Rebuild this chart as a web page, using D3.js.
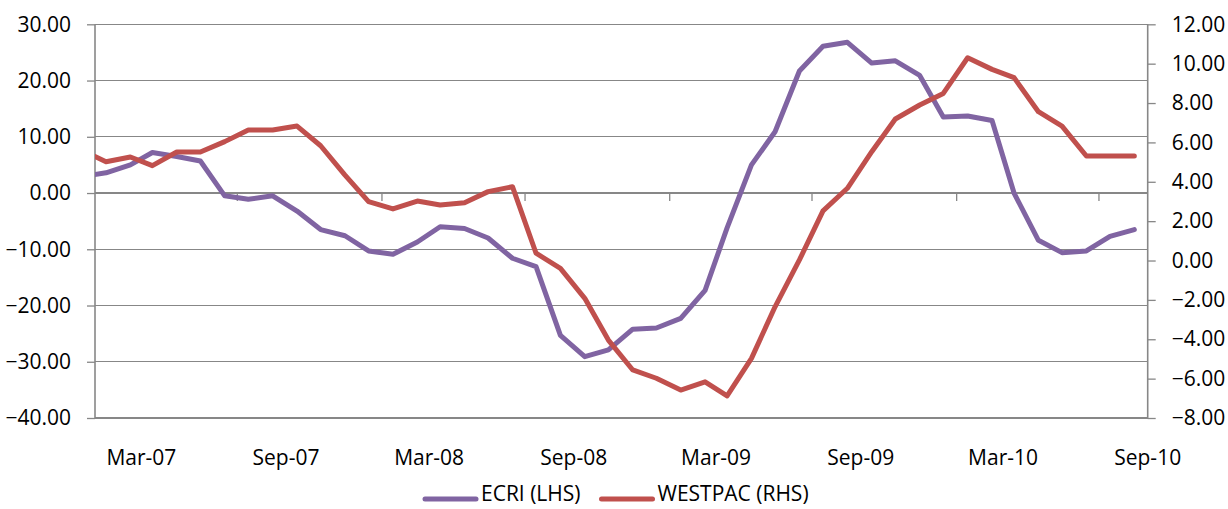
<!DOCTYPE html>
<html>
<head>
<meta charset="utf-8">
<script src="https://cdnjs.cloudflare.com/ajax/libs/d3/7.8.5/d3.min.js"></script>
<style>
  html, body { margin: 0; padding: 0; background: #fff; }
  svg { display: block; font-family: "Open Sans", sans-serif; }
</style>
</head>
<body>
<svg id="chart" width="1228" height="509"></svg>
<script>
// ---- Data (monthly, mid-month observations) ----
const months = [
  "2006-12",
  "2007-01","2007-02","2007-03","2007-04","2007-05","2007-06","2007-07","2007-08","2007-09","2007-10","2007-11","2007-12",
  "2008-01","2008-02","2008-03","2008-04","2008-05","2008-06","2008-07","2008-08","2008-09","2008-10","2008-11","2008-12",
  "2009-01","2009-02","2009-03","2009-04","2009-05","2009-06","2009-07","2009-08","2009-09","2009-10","2009-11","2009-12",
  "2010-01","2010-02","2010-03","2010-04","2010-05","2010-06","2010-07","2010-08"
];
const ecri = [
  2.9,
  3.6, 5.0, 7.2, 6.5, 5.7, -0.5, -1.1, -0.5, -3.2, -6.5, -7.6, -10.3,
  -10.9, -8.7, -6.0, -6.3, -8.0, -11.6, -13.1, -25.3, -29.1, -27.9, -24.2, -24.0,
  -22.3, -17.3, -6.2, 5.0, 10.9, 21.7, 26.1, 26.8, 23.1, 23.5, 20.9, 13.5,
  13.7, 12.9, 0.0, -8.4, -10.6, -10.3, -7.7, -6.5
];
const westpac = [
  5.6,
  5.02, 5.26, 4.82, 5.51, 5.51, 6.04, 6.63, 6.63, 6.83, 5.83, 4.34, 2.99,
  2.62, 3.02, 2.82, 2.94, 3.50, 3.75, 0.37, -0.40, -1.92, -4.04, -5.56, -5.98,
  -6.58, -6.16, -6.88, -4.97, -2.35, 0.03, 2.52, 3.67, 5.53, 7.19, 7.90, 8.49,
  10.30, 9.71, 9.29, 7.56, 6.83, 5.31, 5.31, 5.31
];
const leftTicks = [30, 20, 10, 0, -10, -20, -30, -40];
const rightTicks = [12, 10, 8, 6, 4, 2, 0, -2, -4, -6, -8];
const xLabelMonths = ["2007-03","2007-09","2008-03","2008-09","2009-03","2009-09","2010-03","2010-09"];
const xTickMonths = ["2007-07","2008-01","2008-07","2009-01","2009-07","2010-01","2010-07"];
const xDomain = ["2007-01","2010-09"];
const seriesNames = ["ECRI (LHS)", "WESTPAC (RHS)"];
const seriesColors = ["#8064A2", "#C0504D"];

// ---- Layout ----
const W = 1228, H = 509;
const plot = { left: 95, right: 1147.7, top: 24.3, bottom: 418 };
const gridColor = "#878787";
const fontSize = 21;

const parseM = d3.utcParse("%Y-%m");
const midMonth = s => { const d = parseM(s); return new Date(Date.UTC(d.getUTCFullYear(), d.getUTCMonth(), 15)); };
const fmtM = d3.utcFormat("%b-%y");

const x = d3.scaleUtc().domain(xDomain.map(parseM)).range([plot.left, plot.right]);
const yL = d3.scaleLinear().domain([-40, 30]).range([plot.bottom, plot.top]);
const yR = d3.scaleLinear().domain([-8, 12]).range([plot.bottom, plot.top]);

const svg = d3.select("#chart");
svg.append("rect").attr("width", W).attr("height", H).attr("fill", "#fff");

// Gridlines (left axis majors)
svg.append("g").selectAll("line").data(leftTicks).join("line")
  .attr("x1", plot.left).attr("x2", plot.right)
  .attr("y1", d => yL(d)).attr("y2", d => yL(d))
  .attr("stroke", gridColor).attr("stroke-width", 1.3)
  .attr("shape-rendering", "crispEdges");

// Left axis
const gL = svg.append("g").attr("transform", `translate(${plot.left},0)`)
  .call(d3.axisLeft(yL).tickValues(leftTicks).tickSize(8).tickPadding(16).tickFormat(d3.format(".2f")));
// Right axis
const gR = svg.append("g").attr("transform", `translate(${plot.right},0)`)
  .call(d3.axisRight(yR).tickValues(rightTicks).tickSize(8).tickPadding(16).tickFormat(d3.format(".2f")));
[gL, gR].forEach(g => {
  g.select(".domain").attr("stroke", gridColor).attr("stroke-width", 1.6).attr("d", `M0,${plot.top}V${plot.bottom}`);
  g.selectAll(".tick line").attr("stroke", gridColor).attr("stroke-width", 1.3);
  g.selectAll(".tick text").attr("fill", "#000").style("font-size", fontSize + "px").style("font-family", "'Open Sans', sans-serif");
});

// X axis (crosses at left-axis zero), ticks at Jan/Jul, labels at Mar/Sep below plot
const x0 = yL(0);
const gX = svg.append("g");
gX.append("line").attr("x1", plot.left).attr("x2", plot.right).attr("y1", x0).attr("y2", x0)
  .attr("stroke", gridColor).attr("stroke-width", 1.6);
gX.selectAll("line.tk").data(xTickMonths.map(parseM)).join("line").attr("class", "tk")
  .attr("x1", d => x(d)).attr("x2", d => x(d)).attr("y1", x0).attr("y2", x0 + 8)
  .attr("stroke", gridColor).attr("stroke-width", 1.3);
gX.selectAll("text").data(xLabelMonths.map(parseM)).join("text")
  .attr("x", d => x(d)).attr("y", 465)
  .attr("text-anchor", "middle").attr("fill", "#000")
  .style("font-size", fontSize + "px")
  .text(d => fmtM(d));

// Clip
svg.append("clipPath").attr("id", "clip").append("rect")
  .attr("x", plot.left).attr("y", plot.top - 10)
  .attr("width", plot.right - plot.left).attr("height", plot.bottom - plot.top + 20);

const dates = months.map(midMonth);
const lineL = d3.line().x((d, i) => x(dates[i])).y(d => yL(d));
const lineR = d3.line().x((d, i) => x(dates[i])).y(d => yR(d));

const gLines = svg.append("g").attr("clip-path", "url(#clip)");
gLines.append("path").datum(ecri).attr("d", lineL)
  .attr("fill", "none").attr("stroke", seriesColors[0]).attr("stroke-width", 5)
  .attr("stroke-linejoin", "round").attr("stroke-linecap", "round");
gLines.append("path").datum(westpac).attr("d", lineR)
  .attr("fill", "none").attr("stroke", seriesColors[1]).attr("stroke-width", 5)
  .attr("stroke-linejoin", "round").attr("stroke-linecap", "round");

// Legend
const legendItems = [
  { name: seriesNames[0], color: seriesColors[0], x: 423 },
  { name: seriesNames[1], color: seriesColors[1], x: 599.5 }
];
const lg = svg.append("g");
legendItems.forEach(it => {
  lg.append("line").attr("x1", it.x + 2).attr("x2", it.x + 53).attr("y1", 499).attr("y2", 499)
    .attr("stroke", it.color).attr("stroke-width", 5).attr("stroke-linecap", "round");
  lg.append("text").attr("x", it.x + 58).attr("y", 500.5).attr("fill", "#000")
    .style("font-size", fontSize + "px").text(it.name);
});
</script>
</body>
</html>
